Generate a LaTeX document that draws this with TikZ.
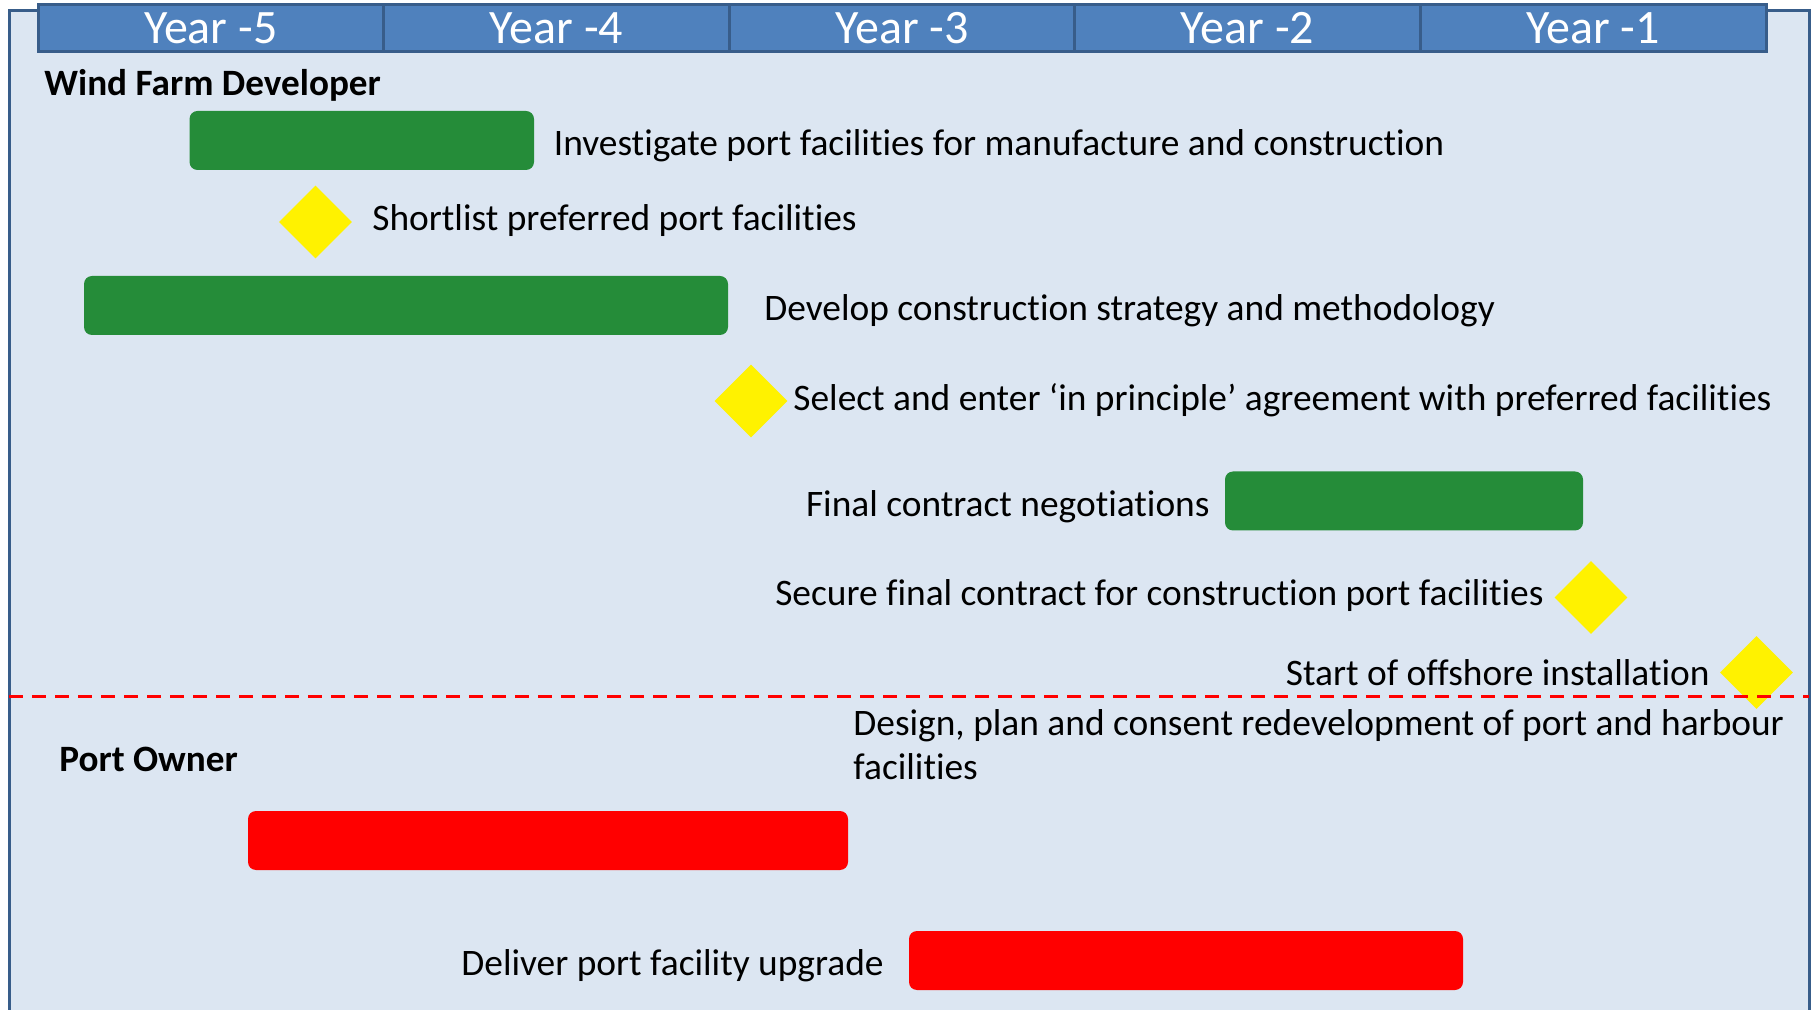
\documentclass[tikz,border=0pt]{standalone}
\usepackage{fontspec}
\setmainfont{Carlito}[Ligatures=NoCommon]
\usetikzlibrary{math, calc, shapes.geometric}
\definecolor{panelblue}{HTML}{DCE6F2}
\definecolor{headblue}{HTML}{4F81BD}
\definecolor{edgeblue}{HTML}{385D8A}
\definecolor{taskgreen}{RGB}{37,140,57}
\tikzset{
    bar/.style={rounded corners=4pt, minimum height=29.5pt, inner sep=0pt},
    gbar/.style={bar, fill=taskgreen},
    rbar/.style={bar, fill=red},
    milestone/.style={diamond, fill=yellow, minimum size=36.5pt, inner sep=0pt},
    task/.style={inner sep=0pt, font=\fontsize{18.7}{22}\selectfont},
    party/.style={task, font=\fontsize{18.6}{22}\selectfont\bfseries},
    yearbox/.style={draw=edgeblue, fill=headblue, line width=1.5pt, minimum width=172.8pt,
        minimum height=23.7pt, inner sep=0pt, text=white, font=\fontsize{24}{28}\selectfont}
}
\begin{document}
\begin{tikzpicture}[x=0.5pt, y=-0.5pt]
            \useasboundingbox (0, 0) rectangle (1812, 1010);
            \filldraw[fill=panelblue, draw=edgeblue, line width=1.5pt] (9, 11) rectangle (1809, 1040);
            \foreach \i in {0, ..., 4} {
                \tikzmath{int \n; \n=5-\i;}
                \node[yearbox] (Y\n) at (210.8 + 345.6*\i, 28.3) {Year -\n};
            }
            \node[party, anchor=base west] (wfd) at (44, 95.5) {Wind Farm Developer};
            \node[party, anchor=base west] (po) at (59, 771.5) {Port Owner};
            \node[gbar, minimum width=172.25pt] (invest) at (361.75, 140.5) {};
            \node[task, anchor=base west] (investL) at (553.5, 155.5) {Investigate port facilities for manufacture and construction};
            \node[milestone] (short) at (315.5, 222) {};
            \node[task, anchor=base west] (shortL) at (372, 230.5) {Shortlist preferred port facilities};
            \node[gbar, minimum width=322pt] (strat) at (406, 305.5) {};
            \node[task, anchor=base west] (stratL) at (764, 321) {Develop construction strategy and methodology};
            \node[milestone] (select) at (751, 401) {};
            \node[task, anchor=base west] (selectL) at (793, 411) {Select and enter ‘in principle’ agreement with preferred facilities};
            \node[gbar, minimum width=179pt] (nego) at (1404, 501) {};
            \node[task, anchor=base east] (negoL) at (1210, 516.5) {Final contract negotiations};
            \node[milestone] (secure) at (1591, 597.5) {};
            \node[task, anchor=base east] (secureL) at (1544, 605.5) {Secure final contract for construction port facilities};
            \node[milestone] (start) at (1756.5, 672.5) {};
            \node[task, anchor=base east] (startL) at (1710, 686) {Start of offshore installation};
            \coordinate (splitL) at (9, 697);
            \coordinate (splitR) at (1809, 697);
            \draw[red, line width=1.5pt, dash pattern=on 7pt off 4.5pt] (splitL) -- (splitR);
            \node[task, anchor=base west, align=left] (designL) at (853, 779.5) {Design, plan and consent redevelopment of port and harbour\\facilities};
            \node[rbar, minimum width=300pt] (design) at (548, 840.5) {};
            \node[rbar, minimum width=277pt] (deliver) at (1186, 960.5) {};
            \node[task, anchor=base east] (deliverL) at (884, 975.5) {Deliver port facility upgrade};
        \end{tikzpicture}
\end{document}
